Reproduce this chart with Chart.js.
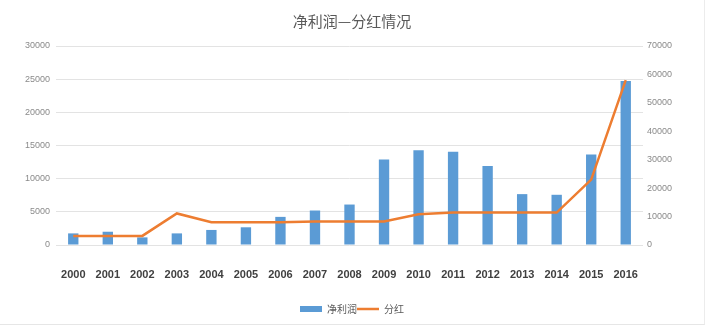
<!DOCTYPE html>
<html>
<head>
<meta charset="utf-8">
<script src="https://cdn.jsdelivr.net/npm/chart.js@4"></script>
<style>
  html, body { margin: 0; padding: 0; background: #fff; }
  #box { position: relative; width: 704px; height: 324px; border-right: 1px solid #ececec; border-bottom: 1px solid #e6e6e6; }
</style>
</head>
<body>
<div id="box"><canvas id="grafico" width="704" height="324"></canvas></div>
<script>
// 年份
const years = ['2000', '2001', '2002', '2003', '2004', '2005', '2006', '2007', '2008',
  '2009', '2010', '2011', '2012', '2013', '2014', '2015', '2016'];
// 净利润（左轴）
const netProfit = [1750, 2000, 1150, 1750, 2270, 2670, 4240, 5200, 6100,
  12880, 14290, 14040, 11910, 7670, 7570, 13630, 24740];
// 分红（右轴）
const dividend = [3200, 3200, 3200, 11100, 8000, 8000, 8000, 8300, 8300,
  8300, 10800, 11400, 11400, 11400, 11400, 23000, 58000];

const fuenteLatina = '"Liberation Sans", Arial, sans-serif';
const fuenteCJK = '"Noto Sans CJK SC", "Liberation Sans", sans-serif';

const ctx = document.getElementById('grafico').getContext('2d');
const chart = new Chart(ctx, {
  type: 'bar',
  data: {
    labels: years,
    datasets: [{
      label: '净利润',
      data: netProfit,
      backgroundColor: '#5B9BD5',
      borderWidth: 0,
      categoryPercentage: 1,
      barPercentage: 0.3,
      pointStyle: 'rect',
      yAxisID: 'y',
      order: 1
    }, {
      type: 'line',
      label: '分红',
      data: dividend,
      borderColor: '#ED7D31',
      backgroundColor: '#ED7D31',
      borderWidth: 2.5,
      pointRadius: 0,
      pointStyle: 'line',
      tension: 0,
      fill: false,
      yAxisID: 'y1',
      order: 0
    }]
  },
  options: {
    responsive: false,
    animation: false,
    layout: { padding: { left: 0, right: 0, top: 0, bottom: 0 } },
    plugins: {
      title: {
        display: true,
        text: '净利润—分红情况',
        color: '#595959',
        font: { family: fuenteCJK, size: 15, weight: 'normal' },
        padding: { top: 12, bottom: 16 }
      },
      legend: {
        position: 'bottom',
        labels: {
          usePointStyle: true,
          pointStyleWidth: 22,
          boxHeight: 6,
          padding: 0,
          color: '#595959',
          font: { family: fuenteCJK, size: 10 },
          sort: (a, b) => a.datasetIndex - b.datasetIndex
        }
      },
      tooltip: { enabled: false }
    },
    scales: {
      x: {
        grid: { display: false, drawTicks: false },
        border: { display: false },
        ticks: {
          color: '#404040',
          font: { family: fuenteLatina, size: 11, weight: 'bold', lineHeight: 1 },
          padding: 24,
          maxRotation: 0
        }
      },
      y: {
        position: 'left',
        min: 0,
        max: 30000,
        grid: { color: '#e3e3e3', drawTicks: false },
        border: { display: false },
        ticks: {
          stepSize: 5000,
          color: '#8a8a8a',
          font: { family: fuenteLatina, size: 9 },
          padding: 6,
          callback: (v) => String(v)
        },
        afterFit: (eje) => { eje.width = 56; }
      },
      y1: {
        position: 'right',
        min: 0,
        max: 70000,
        grid: { display: false, drawTicks: false },
        border: { display: false },
        ticks: {
          stepSize: 10000,
          color: '#8a8a8a',
          font: { family: fuenteLatina, size: 9 },
          padding: 4,
          callback: (v) => String(v)
        },
        afterFit: (eje) => { eje.width = 61; }
      }
    }
  }
});
</script>
</body>
</html>
